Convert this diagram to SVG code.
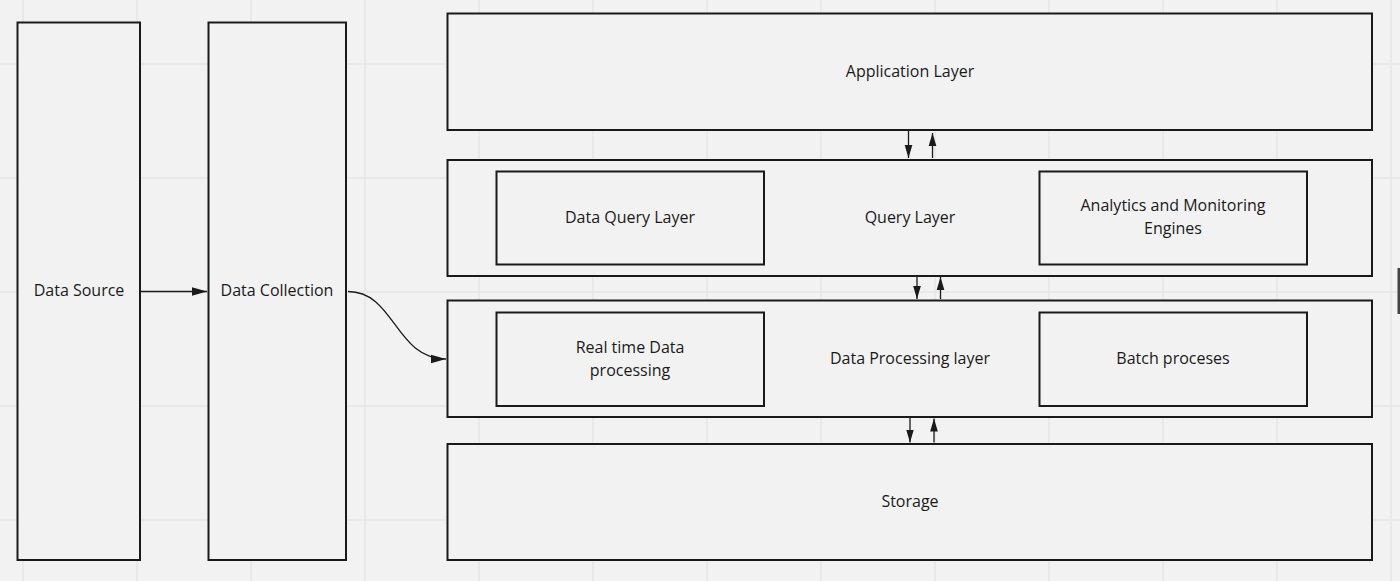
<svg xmlns="http://www.w3.org/2000/svg" width="1400" height="581" viewBox="0 0 1400 581">
<defs>
<style>
.box{fill:#f2f2f2;stroke:#1a1a1a;stroke-width:2}
.t{font-family:"Open Sans","Noto Sans",sans-serif;font-size:16px;fill:#1a1a1a;text-anchor:middle}
.c{fill:none;stroke:#1a1a1a;stroke-width:1.3}
.g{stroke:#e6e6e6;stroke-width:1.5}
</style>
<marker id="ah" viewBox="0 0 10 10" refX="10" refY="5" markerWidth="15" markerHeight="12" markerUnits="userSpaceOnUse" orient="auto" preserveAspectRatio="none">
<path d="M0,1.5 L10,5 L0,8.5 Z" fill="#1a1a1a"/>
</marker>
<marker id="ahs" viewBox="0 0 10 10" refX="10" refY="5" markerWidth="13" markerHeight="11" markerUnits="userSpaceOnUse" orient="auto" preserveAspectRatio="none">
<path d="M0,1.5 L10,5 L0,8.5 Z" fill="#1a1a1a"/>
</marker>
</defs>
<rect width="1400" height="581" fill="#f2f2f2"/>
<g id="grid">
<line class="g" x1="23" y1="0" x2="23" y2="581"/>
<line class="g" x1="137" y1="0" x2="137" y2="581"/>
<line class="g" x1="251" y1="0" x2="251" y2="581"/>
<line class="g" x1="365" y1="0" x2="365" y2="581"/>
<line class="g" x1="479" y1="0" x2="479" y2="581"/>
<line class="g" x1="593" y1="0" x2="593" y2="581"/>
<line class="g" x1="707" y1="0" x2="707" y2="581"/>
<line class="g" x1="821" y1="0" x2="821" y2="581"/>
<line class="g" x1="935" y1="0" x2="935" y2="581"/>
<line class="g" x1="1049" y1="0" x2="1049" y2="581"/>
<line class="g" x1="1163" y1="0" x2="1163" y2="581"/>
<line class="g" x1="1277" y1="0" x2="1277" y2="581"/>
<line class="g" x1="1391" y1="0" x2="1391" y2="581"/>
<line class="g" x1="0" y1="64" x2="1400" y2="64"/>
<line class="g" x1="0" y1="178" x2="1400" y2="178"/>
<line class="g" x1="0" y1="292" x2="1400" y2="292"/>
<line class="g" x1="0" y1="406" x2="1400" y2="406"/>
<line class="g" x1="0" y1="520" x2="1400" y2="520"/>
</g>
<rect x="1397.5" y="268" width="2.5" height="46" fill="#444"/>
<g id="data-source">
<rect class="box" x="17.5" y="22.5" width="122.5" height="537.5"/>
<text class="t" x="79" y="296">Data Source</text>
</g>
<g id="data-collection">
<rect class="box" x="208.5" y="22.5" width="137.5" height="537.5"/>
<text class="t" x="277" y="296">Data Collection</text>
</g>
<g id="application-layer">
<rect class="box" x="447.5" y="13.5" width="924.5" height="116.5"/>
<text class="t" x="910" y="76.5">Application Layer</text>
</g>
<g id="query-layer">
<rect class="box" x="447.5" y="160" width="924.5" height="116"/>
<text class="t" x="910" y="222.5">Query Layer</text>
</g>
<g id="data-query-layer">
<rect class="box" x="496.5" y="171.5" width="267.5" height="93"/>
<text class="t" x="630" y="222.5">Data Query Layer</text>
</g>
<g id="analytics">
<rect class="box" x="1039.5" y="171.5" width="267.5" height="93"/>
<text class="t" x="1173" y="211">Analytics and Monitoring</text>
<text class="t" x="1173" y="234">Engines</text>
</g>
<g id="data-processing-layer">
<rect class="box" x="447.5" y="300.5" width="924.5" height="116.5"/>
<text class="t" x="910" y="363.5">Data Processing layer</text>
</g>
<g id="real-time">
<rect class="box" x="496.5" y="312.5" width="267.5" height="93.5"/>
<text class="t" x="630" y="352.5">Real time Data</text>
<text class="t" x="630" y="375.5">processing</text>
</g>
<g id="batch">
<rect class="box" x="1039.5" y="312.5" width="267.5" height="93.5"/>
<text class="t" x="1173" y="363.5">Batch proceses</text>
</g>
<g id="storage">
<rect class="box" x="447.5" y="444" width="924.5" height="116"/>
<text class="t" x="910" y="506.5">Storage</text>
</g>
<g id="connectors">
<path class="c" d="M141,291.5 H207" marker-end="url(#ah)"/>
<path class="c" d="M348,291.5 C395,291.5 395,359 446,359" marker-end="url(#ah)"/>
<path class="c" d="M908.5,131 V158" marker-end="url(#ahs)"/>
<path class="c" d="M932.5,158 V133" marker-end="url(#ahs)"/>
<path class="c" d="M917,277 V299" marker-end="url(#ahs)"/>
<path class="c" d="M940.5,299 V277" marker-end="url(#ahs)"/>
<path class="c" d="M910,418 V442.5" marker-end="url(#ahs)"/>
<path class="c" d="M934,442.5 V418.5" marker-end="url(#ahs)"/>
</g>
</svg>
